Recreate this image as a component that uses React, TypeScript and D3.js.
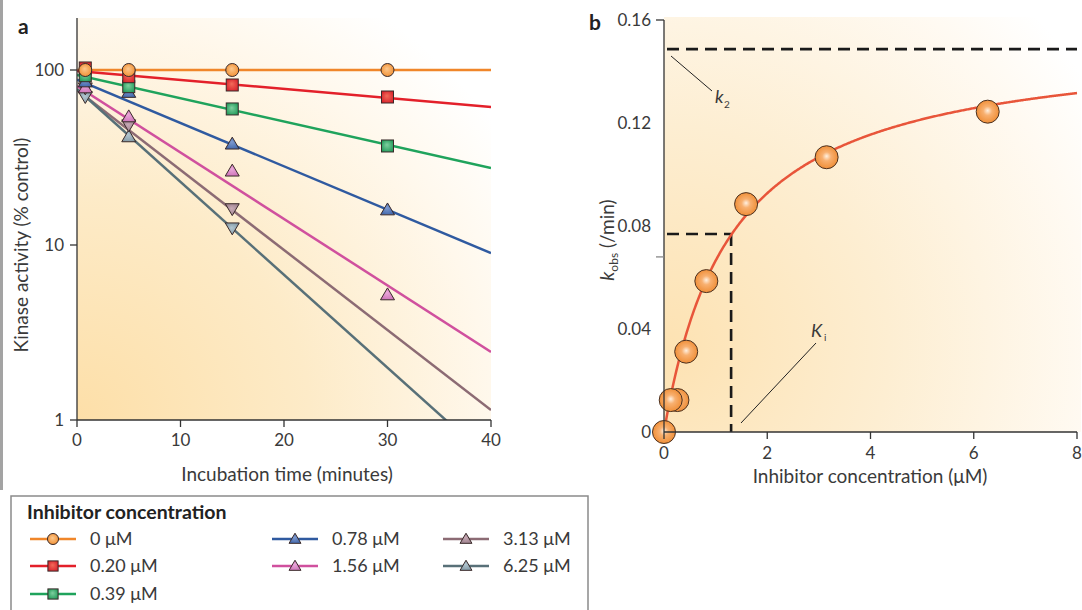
import React from 'react';
import * as d3 from 'd3';

// ---------- Panel a data ----------
const seriesLabels = ['0 μM', '0.20 μM', '0.39 μM', '0.78 μM', '1.56 μM', '3.13 μM', '6.25 μM'];
const timePoints = [0.8, 5, 15, 30];
const activity0 = [100, 100, 100, 100];
const activity020 = [102.7, 91.6, 82.1, 70.1];
const activity039 = [92.8, 80.3, 59.9, 36.8];
const activity078 = [85.7, 74.6, 37.8, 15.9];
const activity156 = [79.2, 54.1, 26.5, 5.2];
const activity313 = [78.9, 48.5, 16.1];
const activity625 = [70.4, 41.6, 12.5];
const fitAtStart = [100, 98.7, 93.6, 88.1, 81.0, 76.9, 77.9]; // t = 0
const fitAtEnd = [100, 61.5, 27.5, 9.0, 2.45, 1.14, 0.586]; // t = 40
const xTicksA = [0, 10, 20, 30, 40];
const yTicksA = [1, 10, 100];

// ---------- Panel b data ----------
const concentrations = [0, 0.13, 0.26, 0.43, 0.82, 1.59, 3.15, 6.27];
const kobsValues = [0, 0.0124, 0.0124, 0.0312, 0.0586, 0.0885, 0.1067, 0.1244];
const curveMax = 0.153;
const curveKi = 1.3;
const k2Line = 0.1487;
const kiLine = 1.3;
const halfLine = 0.0769;
const xTicksB = [0, 2, 4, 6, 8];
const yTicksB = [0, 0.04, 0.08, 0.12, 0.16];
const yTickMarksB = [0.16, 0.068];

const activitySets = [activity0, activity020, activity039, activity078, activity156, activity313, activity625];
const lineColors = ['#f0862a', '#e3202a', '#1fa35c', '#2f5aa0', '#d0509e', '#8c6b74', '#587078'];
const fillLight = ['#fcc88e', '#f26b5a', '#7fcf9f', '#7f9bd0', '#eaa8da', '#c8aab6', '#b3c6d0'];
const fillDark = ['#f08a2a', '#d8202a', '#1f9a58', '#3d63a8', '#cc6fb6', '#9a7e8a', '#7f96a2'];
const shapes = ['circle', 'square', 'square', 'up', 'up', 'down', 'down'];
const shapeOverrides: Record<string, string> = { '6-1': 'up' };

const FONT = "Lato, 'Open Sans', sans-serif";
const TXT = '#3a3a3a';

const W = 1082, H = 610;

const xA = d3.scaleLinear().domain([0, 40]).range([77, 491]);
const yA = d3.scaleLog().domain([1, 100]).range([420, 70]);
const xB = d3.scaleLinear().domain([0, 8]).range([664, 1077]);
const yB = d3.scaleLinear().domain([0, 0.16]).range([432, 20]);

function Marker({ shape, i, x, y, s = 1 }: { shape: string; i: number; x: number; y: number; s?: number }) {
  const fill = `url(#mk${i})`;
  const stroke = '#3a2a2a';
  if (shape === 'circle') return <circle cx={x} cy={y} r={6.5 * s} fill={fill} stroke={stroke} strokeWidth={1} />;
  if (shape === 'square') {
    const h = 6 * s;
    return <rect x={x - h} y={y - h} width={2 * h} height={2 * h} fill={fill} stroke={stroke} strokeWidth={1} />;
  }
  const w = 7 * s, t = 6.8 * s;
  const dir = shape === 'up' ? 1 : -1;
  const p = `M${x},${y - dir * t} L${x + w},${y + dir * t * 0.75} L${x - w},${y + dir * t * 0.75} Z`;
  return <path d={p} fill={fill} stroke={stroke} strokeWidth={1} strokeLinejoin="round" />;
}

export default function App() {
  const curveXs = d3.range(0, 8.0001, 0.02);
  const curve = d3
    .line<number>()
    .x((c) => xB(c))
    .y((c) => yB((curveMax * c) / (curveKi + c)))(curveXs);

  const legendPos = [
    [30, 539], [30, 566], [30, 594],
    [272, 539], [272, 566],
    [443, 539], [443, 566],
  ];
  const legendShapes = ['circle', 'square', 'square', 'up', 'up', 'up', 'up'];

  return (
    <svg width={W} height={H} style={{ position: 'absolute', left: 0, top: 0, background: '#fff' }} fontFamily={FONT}>
      <defs>
        <radialGradient id="bgA" cx="0" cy="1" r="1.25" fx="0" fy="1">
          <stop offset="0" stopColor="#fddfa8" />
          <stop offset="0.45" stopColor="#fdebc8" />
          <stop offset="0.8" stopColor="#fff8ec" />
          <stop offset="1" stopColor="#ffffff" />
        </radialGradient>
        <radialGradient id="bgB" cx="0" cy="0.8" r="1.2" fx="0" fy="0.8">
          <stop offset="0" stopColor="#fde2b2" />
          <stop offset="0.45" stopColor="#fdeed2" />
          <stop offset="0.85" stopColor="#fffaf2" />
          <stop offset="1" stopColor="#ffffff" />
        </radialGradient>
        {lineColors.map((c, i) => (
          <radialGradient key={i} id={`mk${i}`} cx="0.5" cy="0.5" r="0.6" fx="0.45" fy="0.4">
            <stop offset="0" stopColor={fillLight[i]} />
            <stop offset="1" stopColor={fillDark[i]} />
          </radialGradient>
        ))}
        <radialGradient id="ball" cx="0.5" cy="0.5" r="0.55" fx="0.5" fy="0.45">
          <stop offset="0" stopColor="#fff0e0" />
          <stop offset="0.35" stopColor="#f8b070" />
          <stop offset="1" stopColor="#ee8a30" />
        </radialGradient>
        <clipPath id="clipA">
          <rect x={77} y={18} width={414} height={402} />
        </clipPath>
      </defs>

      {/* left frame bar */}
      <line x1={1.5} y1={0} x2={1.5} y2={490} stroke="#a3a3a3" strokeWidth={3} />

      {/* ---------- Panel a ---------- */}
      <text x={18} y={34} fontSize={21} fontWeight="bold" fill="#222">a</text>
      <rect x={77} y={18} width={414} height={402} fill="url(#bgA)" />

      <g clipPath="url(#clipA)">
        {fitAtStart.map((v0, i) => (
          <line
            key={i}
            x1={xA(0)}
            y1={yA(v0)}
            x2={xA(40)}
            y2={yA(fitAtEnd[i])}
            stroke={lineColors[i]}
            strokeWidth={2.5}
          />
        ))}
      </g>
      {activitySets
        .map((vals, i) => ({ vals, i }))
        .reverse()
        .map(({ vals, i }) =>
          vals.map((v, j) => (
            <Marker
              key={`${i}-${j}`}
              shape={shapeOverrides[`${i}-${j}`] || shapes[i]}
              i={i}
              x={xA(timePoints[j])}
              y={yA(v)}
            />
          ))
        )}

      {/* axes a */}
      <line x1={77} y1={18} x2={77} y2={420} stroke="#333" strokeWidth={1.3} />
      <line x1={77} y1={420} x2={491} y2={420} stroke="#333" strokeWidth={1.3} />
      {yTicksA.map((t) => (
        <g key={t}>
          <line x1={70} x2={77} y1={yA(t)} y2={yA(t)} stroke="#333" strokeWidth={1.3} />
          <text x={64} y={yA(t)} dy="0.35em" textAnchor="end" fontSize={17} fill={TXT}>{t}</text>
        </g>
      ))}
      {xTicksA.map((t) => (
        <g key={t}>
          <line x1={xA(t)} x2={xA(t)} y1={420} y2={427} stroke="#333" strokeWidth={1.3} />
          <text x={xA(t)} y={446} textAnchor="middle" fontSize={17} fill={TXT}>{t}</text>
        </g>
      ))}
      <text x={287} y={481} textAnchor="middle" fontSize={19} fill={TXT}>Incubation time (minutes)</text>
      <text transform="translate(28,245) rotate(-90)" textAnchor="middle" fontSize={19} fill={TXT}>
        Kinase activity (% control)
      </text>

      {/* ---------- Panel b ---------- */}
      <text x={589} y={30} fontSize={21} fontWeight="bold" fill="#222">b</text>
      <rect x={664} y={17} width={417} height={415} fill="url(#bgB)" />

      {/* dashed guides */}
      <line x1={667} x2={1077} y1={yB(k2Line)} y2={yB(k2Line)} stroke="#1a1a1a" strokeWidth={2.6} strokeDasharray="12 7" />
      <line x1={667} x2={xB(kiLine)} y1={yB(halfLine)} y2={yB(halfLine)} stroke="#1a1a1a" strokeWidth={2.6} strokeDasharray="12 7" />
      <line x1={xB(kiLine)} x2={xB(kiLine)} y1={yB(halfLine)} y2={432} stroke="#1a1a1a" strokeWidth={2.6} strokeDasharray="12 7" />

      {/* leaders */}
      <line x1={671} y1={56} x2={712} y2={91} stroke="#222" strokeWidth={1} />
      <text x={715} y={103} fontSize={18} fontStyle="italic" fill={TXT}>k</text>
      <text x={724} y={108} fontSize={10} fill={TXT}>2</text>
      <line x1={741} y1={423} x2={816} y2={343} stroke="#222" strokeWidth={1} />
      <text x={811} y={337} fontSize={18} fontStyle="italic" fill={TXT}>K</text>
      <text x={824} y={341} fontSize={10} fill={TXT}>i</text>

      <path d={curve || ''} fill="none" stroke="#e8553a" strokeWidth={2.5} />

      {concentrations.map((c, i) => (
        <circle key={i} cx={xB(c)} cy={yB(kobsValues[i])} r={11.5} fill="url(#ball)" stroke="#4a3020" strokeWidth={1} />
      )).reverse()}

      {/* axes b */}
      <line x1={664} y1={20} x2={664} y2={432} stroke="#333" strokeWidth={1.3} />
      <line x1={664} y1={432} x2={1077} y2={432} stroke="#333" strokeWidth={1.3} />
      {yTickMarksB.map((t, k) => (
        <line key={t} x1={656} x2={664} y1={yB(t)} y2={yB(t)} stroke={k === 0 ? '#333' : '#888'} strokeWidth={1.3} />
      ))}
      {yTicksB.map((t) => (
        <text key={t} x={651} y={yB(t)} dy="0.35em" textAnchor="end" fontSize={17} fill={TXT}>
          {t === 0 ? '0' : t.toFixed(2)}
        </text>
      ))}
      {xTicksB.map((t) => (
        <g key={t}>
          <line x1={xB(t)} x2={xB(t)} y1={432} y2={439} stroke="#333" strokeWidth={1.3} />
          <text x={xB(t)} y={459} textAnchor="middle" fontSize={17} fill={TXT}>{t}</text>
        </g>
      ))}
      <text x={870} y={483} textAnchor="middle" fontSize={19} fill={TXT}>Inhibitor concentration (μM)</text>
      <text transform="translate(614,240) rotate(-90)" textAnchor="middle" fontSize={19} fill={TXT}>
        <tspan fontStyle="italic">k</tspan>
        <tspan fontSize={12} dy={4}>obs</tspan>
        <tspan dy={-4}> (/min)</tspan>
      </text>

      {/* ---------- Legend ---------- */}
      <rect x={11} y={496} width={577} height={130} fill="#fff" stroke="#8a8a8a" strokeWidth={1.5} />
      <text x={27} y={519} fontSize={19.5} fontWeight="bold" fill="#222">Inhibitor concentration</text>
      {seriesLabels.map((lab, i) => {
        const [lx, ly] = legendPos[i];
        return (
          <g key={lab}>
            <line x1={lx} x2={lx + 46} y1={ly} y2={ly} stroke={lineColors[i]} strokeWidth={2.5} />
            <Marker shape={legendShapes[i]} i={i} x={lx + 23} y={ly} s={0.85} />
            <text x={lx + 60} y={ly} dy="0.35em" fontSize={18} fill={TXT}>{lab}</text>
          </g>
        );
      })}
    </svg>
  );
}
